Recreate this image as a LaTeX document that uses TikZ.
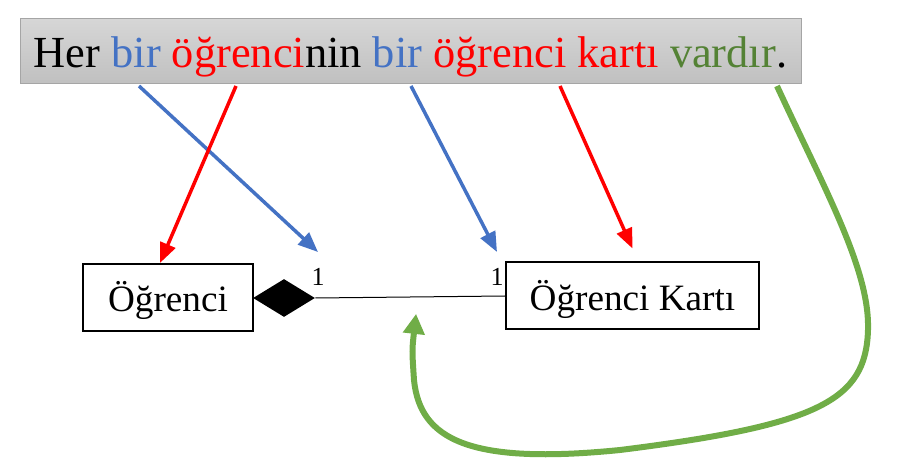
\documentclass[tikz,border=0pt]{standalone}
\usepackage{fontspec}
\setmainfont{Liberation Serif}
\usepackage{xcolor}
\usetikzlibrary{arrows.meta}
\usetikzlibrary{shapes.geometric}
\usetikzlibrary{positioning}

\definecolor{birblue}{RGB}{68,114,196}
\definecolor{ogred}{RGB}{255,0,0}
\definecolor{varline}{RGB}{112,173,71}
\definecolor{vartext}{RGB}{84,130,53}
\definecolor{boxtop}{RGB}{214,214,214}
\definecolor{boxbot}{RGB}{192,192,192}
\definecolor{boxline}{RGB}{165,165,165}

\begin{document}
\begin{tikzpicture}[x=0.5pt,y=-0.5pt]
	%\draw[help lines] (0,0) grid (901,460);
	\useasboundingbox (0,0) rectangle (901,460);

	\tikzstyle{snode} = [rectangle,top color=boxtop,bottom color=boxbot,draw=boxline,line width=0.5pt,minimum width=390.5pt,minimum height=32.5pt,inner sep=0pt,text height=16.5pt,text depth=0pt,font=\fontsize{22.2}{26}\selectfont]
	\tikzstyle{cnode} = [rectangle,draw,line width=1pt,fill=white,minimum height=33.5pt,inner sep=0pt,text height=14.5pt,text depth=0pt,font=\fontsize{18.6}{22}\selectfont]
	\tikzstyle{mnode} = [inner sep=0pt,font=\fontsize{13}{15}\selectfont]
	\tikzstyle{bedge} = [-{Triangle[length=10pt,width=8pt]},line width=1.75pt,draw=birblue]
	\tikzstyle{redge} = [-{Triangle[length=10pt,width=8pt]},line width=1.75pt,draw=ogred]
	\tikzstyle{gedge} = [-{Triangle[length=10pt,width=10.5pt]},line width=3pt,draw=varline]

	\node[snode] (sentence) at (410.5,51.5) {Her \textcolor{birblue}{bir} \textcolor{ogred}{öğrenci}nin \textcolor{birblue}{bir} \textcolor{ogred}{öğrenci kartı} \textcolor{vartext}{vardır}.};

	\node[cnode,minimum width=85pt] (ogrenci) at (168,297.5) {Öğrenci};
	\node[cnode,minimum width=126.5pt] (kart) at (632.5,296) {Öğrenci Kartı};
	\node[diamond,fill=black,inner sep=0pt,minimum width=31pt,minimum height=19pt] (comp) at (284,298) {};

	\node[mnode] (one1) at (318,277) {1};
	\node[mnode] (one2) at (497,277) {1};

	\coordinate (bir1) at (139,86);
	\coordinate (og1) at (236,86);
	\coordinate (bir2) at (411,86);
	\coordinate (og2) at (560,86);
	\coordinate (var) at (777,86);
	\coordinate (assoc) at (418,297);

	\draw[line width=0.5pt] (comp.east) -- (kart.west);

	\draw[bedge] (bir1) -- ([yshift=8pt]one1.north);
	\draw[bedge] (bir2) -- ([yshift=8pt]one2.north);
	\draw[redge] (og1) -- ([xshift=-4pt]ogrenci.north);
	\draw[redge] (og2) -- ([yshift=6.5pt]kart.north);
	\draw[gedge,shorten >=8.5pt] (var) .. controls (825,190) and (870,270) .. (868,330)
		.. controls (866,400) and (820,425) .. (620,450)
		.. controls (470,465) and (420,440) .. (414,380)
		.. controls (412,350) .. (assoc);

\end{tikzpicture}
\end{document}
